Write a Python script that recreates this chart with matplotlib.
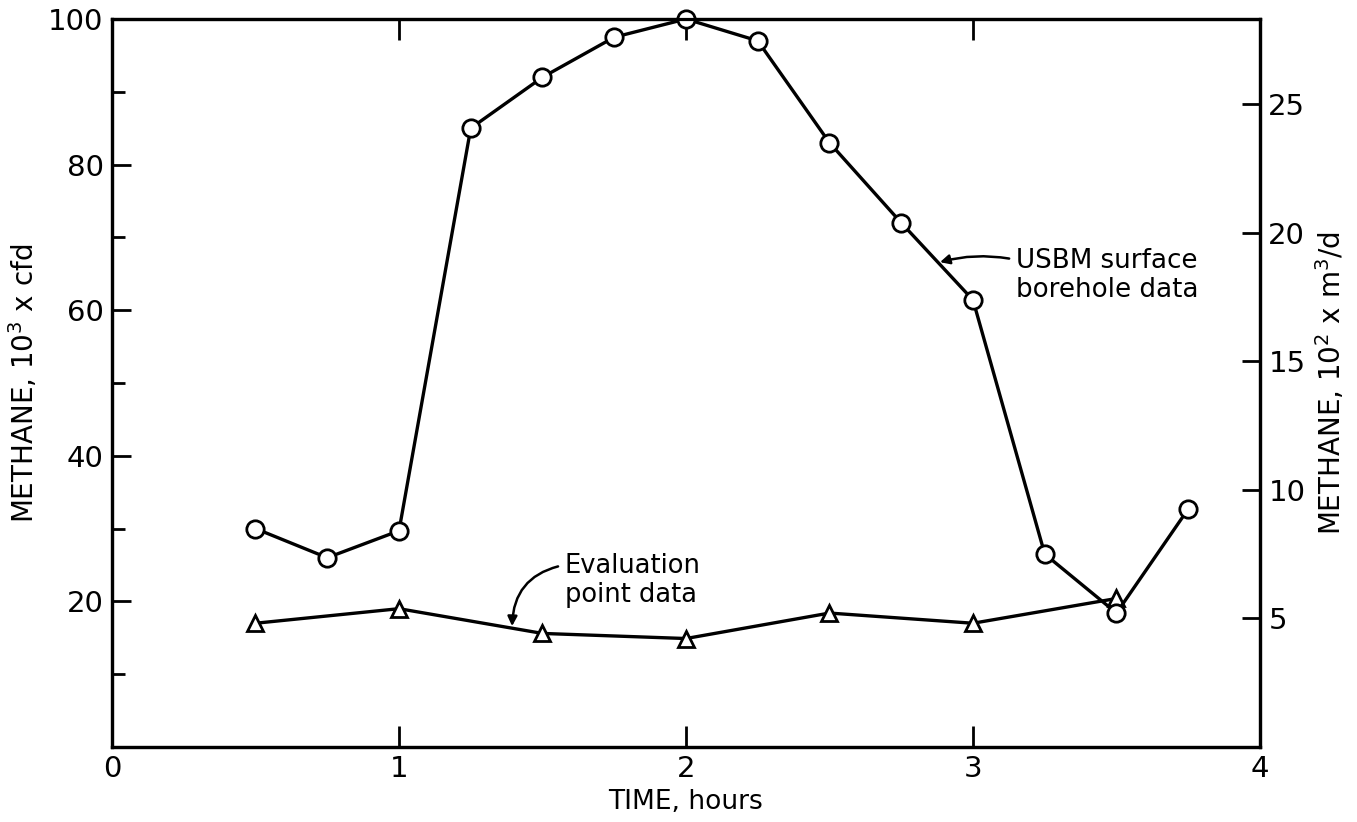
import matplotlib
matplotlib.use("Agg")
import matplotlib.pyplot as plt

# Data (left axis units: 10^3 cfd)
time_usbm = [0.5, 0.75, 1.0, 1.25, 1.5, 1.75, 2.0, 2.25, 2.5, 2.75, 3.0, 3.25, 3.5, 3.75]
usbm = [30.0, 26.0, 29.7, 85.0, 92.0, 97.5, 100.0, 97.0, 83.0, 72.0, 61.4, 26.5, 18.4, 32.7]
time_eval = [0.5, 1.0, 1.5, 2.0, 2.5, 3.0, 3.5]
evalpt = [17.0, 19.0, 15.6, 14.9, 18.4, 17.0, 20.4]

x_ticks = [0, 1, 2, 3, 4]
left_major = [20, 40, 60, 80, 100]
left_minor = [10, 30, 50, 70, 90]
right_ticks = [5, 10, 15, 20, 25]
CFD_TO_M3D_100 = 28.3168  # 100 x10^3 cfd in 10^2 m3/d

plt.rcParams['font.family'] = ['DejaVu Sans']

fig = plt.figure(figsize=(13.57, 8.22), dpi=100)
ax = fig.add_axes([112/1357, 1-747/822, (1260-112)/1357, (747-19)/822])

ax.plot(time_usbm, usbm, color='black', lw=2.4, marker='o', ms=12.5,
        mfc='white', mec='black', mew=2, zorder=4, clip_on=False)
ax.plot(time_eval, evalpt, color='black', lw=2.4, marker='^', ms=12,
        mfc='white', mec='black', mew=2, zorder=3, clip_on=False)

ax.set_xlim(0, 4)
ax.set_ylim(0, 100)
ax.set_xticks(x_ticks)
ax.set_xticklabels([str(t) for t in x_ticks])
ax.set_yticks(left_major)
ax.set_yticks(left_minor, minor=True)
ax.tick_params(axis='both', which='both', direction='in', width=2, labelsize=21)
ax.tick_params(axis='y', which='major', length=14, pad=6)
ax.tick_params(axis='y', which='minor', length=9.5)
ax.tick_params(axis='x', which='major', length=15, top=True, pad=6)
for s in ax.spines.values():
    s.set_linewidth(2.3)

ax.set_xlabel('TIME, hours', fontsize=19, labelpad=4)
ax.set_ylabel('METHANE, 10$^3$ x cfd', fontsize=20, labelpad=6)

ax2 = ax.twinx()
ax2.set_ylim(0, CFD_TO_M3D_100)
ax2.set_yticks(right_ticks)
ax2.tick_params(axis='y', direction='in', length=13, width=2, labelsize=21, pad=6)
ax2.set_ylabel('METHANE, 10$^2$ x m$^3$/d', fontsize=20, labelpad=6)
for s in ax2.spines.values():
    s.set_linewidth(2.3)

ax.annotate('USBM surface\nborehole data', xy=(2.885, 66.6), xytext=(3.15, 64.8),
            fontsize=18.8, ha='left', va='center', linespacing=1.15,
            arrowprops=dict(arrowstyle='-|>', color='black', lw=1.8,
                            connectionstyle='arc3,rad=0.12', mutation_scale=14,
                            relpos=(0, 0.78), shrinkA=3, shrinkB=0))
ax.annotate('Evaluation\npoint data', xy=(1.394, 16.6), xytext=(1.578, 22.9),
            fontsize=18.5, ha='left', va='center', linespacing=1.15,
            arrowprops=dict(arrowstyle='-|>', color='black', lw=1.8,
                            connectionstyle='arc3,rad=0.4', mutation_scale=14,
                            relpos=(0, 0.78), shrinkA=3, shrinkB=0))

fig.savefig('out.png', dpi=100)
